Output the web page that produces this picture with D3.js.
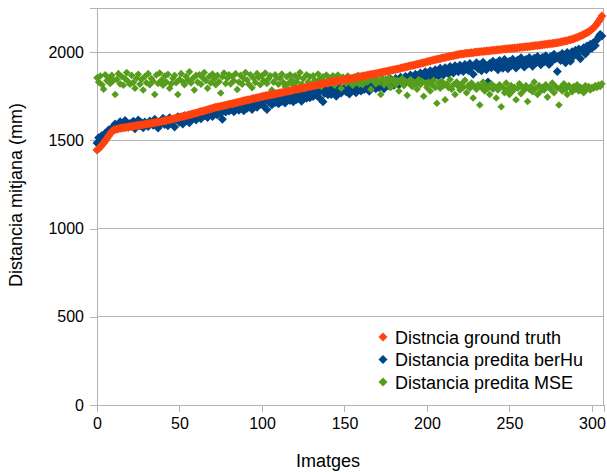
<!DOCTYPE html>
<html><head><meta charset="utf-8">
<script src="https://cdn.jsdelivr.net/npm/d3@7"></script>
<style>body{margin:0;background:#fff}svg{display:block;font-family:"Liberation Sans",Arial,sans-serif}</style>
</head><body><svg id="c" width="607" height="472"></svg>
<script>
const seriesNames = ["Distncia ground truth", "Distancia predita berHu", "Distancia predita MSE"];
const seriesColors = ["#ff420e", "#004586", "#579d1c"];
const yTicks = [0, 500, 1000, 1500, 2000];
const xTicks = [0, 50, 100, 150, 200, 250, 300];

const groundTruth = [
1445,1452,1462,1473,1485,1497,1510,1524,1538,1550,1557,
1561,1564,1566,1568,1570,1571,1573,1574,1576,1578,
1579,1580,1582,1583,1585,1586,1588,1589,1591,1592,
1594,1595,1597,1598,1600,1602,1604,1605,1607,1609,
1611,1613,1615,1617,1619,1621,1624,1626,1628,1631,
1633,1635,1637,1640,1642,1645,1647,1649,1652,1655,
1657,1660,1663,1665,1668,1671,1674,1676,1679,1682,
1684,1687,1689,1691,1693,1695,1697,1699,1701,1704,
1706,1708,1710,1712,1715,1717,1719,1721,1724,1726,
1728,1730,1732,1735,1737,1739,1741,1743,1746,1748,
1750,1752,1754,1756,1758,1759,1761,1763,1765,1767,
1769,1771,1773,1775,1777,1779,1781,1783,1785,1788,
1790,1791,1793,1795,1797,1799,1801,1803,1805,1807,
1809,1811,1813,1815,1817,1819,1821,1823,1825,1828,
1830,1832,1833,1835,1836,1838,1839,1840,1842,1843,
1845,1847,1849,1850,1852,1854,1856,1858,1860,1862,
1864,1865,1867,1869,1871,1873,1874,1876,1878,1880,
1882,1884,1886,1888,1890,1892,1894,1896,1898,1900,
1902,1904,1906,1909,1911,1913,1915,1917,1920,1922,
1924,1926,1929,1931,1933,1936,1938,1940,1943,1945,
1948,1950,1953,1955,1957,1959,1961,1963,1966,1968,
1970,1972,1974,1976,1978,1980,1982,1984,1986,1988,
1989,1990,1992,1993,1994,1995,1996,1997,1999,2000,
2001,2002,2003,2004,2005,2006,2007,2008,2009,2010,
2011,2012,2013,2014,2015,2016,2017,2018,2019,2020,
2021,2022,2023,2024,2025,2026,2027,2028,2029,2030,
2031,2032,2033,2034,2036,2037,2038,2039,2040,2042,
2043,2044,2045,2047,2048,2049,2050,2052,2053,2055,
2057,2059,2061,2063,2065,2068,2070,2073,2076,2080,
2083,2087,2091,2095,2100,2105,2110,2116,2122,2130,
2138,2148,2160,2173,2188,2205];

const berHu = [
1485,1515,1500,1528,1522,1540,1535,1558,1548,1572,1566,
1592,1570,1588,1605,1578,1598,1612,1585,1575,1596,
1588,1608,1566,1594,1615,1582,1600,1572,1604,1590,
1578,1610,1596,1585,1620,1598,1570,1606,1592,1625,
1590,1615,1582,1628,1598,1612,1575,1620,1634,1602,
1618,1592,1640,1610,1628,1600,1645,1622,1648,1615,
1636,1658,1622,1650,1640,1664,1630,1646,1670,1635,
1660,1678,1644,1668,1652,1620,1684,1660,1692,1666,
1674,1698,1662,1688,1705,1670,1690,1710,1668,1700,
1682,1715,1695,1675,1722,1700,1688,1728,1705,1712,
1695,1732,1675,1720,1740,1702,1726,1715,1745,1708,
1738,1720,1752,1712,1735,1760,1726,1744,1718,1756,
1732,1765,1745,1722,1770,1750,1738,1775,1742,1760,
1748,1780,1755,1770,1738,1788,1718,1765,1792,1758,
1785,1760,1795,1772,1750,1790,1805,1768,1782,1798,
1775,1800,1762,1810,1785,1795,1770,1815,1790,1780,
1805,1788,1822,1795,1778,1818,1805,1830,1792,1812,
1800,1835,1815,1792,1840,1822,1808,1848,1826,1812,
1850,1828,1815,1858,1838,1822,1862,1845,1830,1870,
1848,1835,1875,1855,1840,1882,1862,1850,1888,1866,
1852,1895,1872,1858,1900,1880,1865,1908,1886,1870,
1912,1892,1878,1918,1896,1882,1922,1904,1888,1926,
1900,1890,1930,1912,1896,1936,1915,1875,1922,1940,
1905,1928,1895,1942,1920,1900,1830,1935,1912,1948,
1918,1938,1900,1952,1925,1908,1958,1932,1905,1948,
1922,1960,1935,1910,1955,1928,1968,1942,1915,1958,
1932,1970,1948,1920,1965,1938,1975,1952,1928,1970,
1945,1980,1955,1930,1975,1950,1988,1962,1890,1980,
1952,1992,1968,1940,1998,1972,1948,2002,1978,2010,
1985,2018,1962,2008,2025,1990,2035,2012,2045,2022,
2055,2038,2068,2085,2100,2092];

const mse = [
1855,1830,1865,1815,1790,1872,1838,1850,1822,1868,1840,
1760,1845,1878,1820,1862,1812,1850,1884,1832,1818,
1868,1828,1795,1852,1874,1818,1845,1785,1862,1826,
1878,1815,1850,1835,1760,1870,1822,1882,1840,1812,
1864,1830,1874,1795,1820,1852,1868,1826,1760,1845,
1878,1832,1815,1862,1840,1888,1825,1850,1785,1868,
1830,1872,1818,1855,1884,1838,1795,1862,1825,1876,
1848,1815,1868,1832,1768,1860,1882,1822,1852,1872,
1820,1862,1838,1878,1788,1830,1868,1818,1850,1884,
1842,1818,1872,1798,1852,1828,1878,1856,1815,1866,
1838,1882,1822,1850,1866,1785,1830,1872,1855,1818,
1852,1876,1828,1805,1860,1822,1872,1842,1812,1866,
1832,1858,1884,1818,1850,1795,1872,1830,1860,1815,
1866,1840,1825,1876,1848,1805,1860,1832,1870,1820,
1852,1826,1866,1812,1845,1870,1832,1795,1858,1840,
1822,1864,1835,1852,1812,1858,1828,1868,1818,1845,
1815,1845,1860,1830,1850,1790,1840,1855,1820,1845,
1830,1760,1850,1815,1840,1825,1855,1800,1835,1845,
1815,1840,1780,1830,1850,1810,1835,1755,1825,1845,
1805,1830,1820,1790,1845,1815,1835,1750,1825,1800,
1830,1780,1815,1840,1800,1710,1825,1795,1835,1810,
1730,1820,1800,1845,1790,1815,1760,1830,1805,1785,
1820,1800,1840,1770,1810,1795,1825,1740,1805,1790,
1815,1700,1800,1830,1780,1810,1795,1760,1820,1790,
1805,1740,1785,1815,1690,1800,1770,1825,1790,1760,
1810,1780,1800,1730,1795,1820,1765,1800,1785,1810,
1720,1790,1805,1775,1830,1795,1760,1810,1780,1800,
1785,1815,1745,1800,1790,1825,1770,1805,1795,1700,
1800,1780,1820,1790,1760,1810,1795,1775,1805,1790,
1815,1780,1800,1795,1770,1810,1790,1805,1785,1800,
1795,1810,1800,1815,1805,1820];

const svg = d3.select("#c");
const L = 97, R = 603.5, T = 8, B = 405;
const x = d3.scaleLinear().domain([0, 307]).range([L, R]);
const y = d3.scaleLinear().domain([0, 2250]).range([B, T]);
const grid = "#b3b3b3";
const FONT = '"Liberation Sans",Arial,sans-serif';

svg.append("g").selectAll("line").data(yTicks.filter(d => d > 0)).join("line")
  .attr("x1", L).attr("x2", R).attr("y1", d => y(d)).attr("y2", d => y(d))
  .attr("stroke", grid).attr("stroke-width", 1).attr("shape-rendering", "crispEdges");

svg.append("rect").attr("x", L).attr("y", T).attr("width", R - L).attr("height", B - T)
  .attr("fill", "none").attr("stroke", grid).attr("shape-rendering", "crispEdges");

const xAxis = d3.axisBottom(x).tickValues(xTicks).tickFormat(d3.format("d")).tickSize(7).tickPadding(6);
const yAxis = d3.axisLeft(y).tickValues(yTicks).tickFormat(d3.format("d")).tickSize(7).tickPadding(6);
const gx = svg.append("g").attr("transform", `translate(0,${B})`).call(xAxis);
const gy = svg.append("g").attr("transform", `translate(${L},0)`).call(yAxis);
[gx, gy].forEach(g => {
  g.select(".domain").attr("stroke", grid).attr("shape-rendering", "crispEdges");
  g.selectAll(".tick line").attr("stroke", grid).attr("shape-rendering", "crispEdges");
  g.selectAll(".tick text").attr("fill", "#000").style("font-size", "16px").style("font-family", FONT);
});

const diamond = r => `M0,${-r}L${r},0L0,${r}L${-r},0Z`;
function drawSeries(vals, color, r) {
  svg.append("g").selectAll("path").data(vals).join("path")
    .attr("d", diamond(r))
    .attr("transform", (d, i) => `translate(${x(i)},${y(d)})`)
    .attr("fill", color);
}
drawSeries(berHu, seriesColors[1], 4.5);
drawSeries(mse, seriesColors[2], 3.8);
drawSeries(groundTruth, seriesColors[0], 4.5);

svg.append("text").attr("x", 328).attr("y", 467).attr("text-anchor", "middle")
  .style("font-size", "18px").style("font-family", FONT).attr("fill", "#000").text("Imatges");
svg.append("text").attr("transform", "translate(22,195) rotate(-90)").attr("text-anchor", "middle")
  .style("font-size", "18px").style("font-family", FONT).attr("fill", "#000").text("Distancia mitjana (mm)");

const lg = svg.append("g").attr("transform", "translate(383,337)");
seriesNames.forEach((n, i) => {
  const row = lg.append("g").attr("transform", `translate(0,${i * 22.5})`);
  row.append("path").attr("d", diamond(4.5)).attr("fill", seriesColors[i]);
  row.append("text").attr("x", 12).attr("y", 6.5).style("font-size", "18px").style("font-family", FONT)
    .attr("fill", "#000").text(n);
});
</script></body></html>
